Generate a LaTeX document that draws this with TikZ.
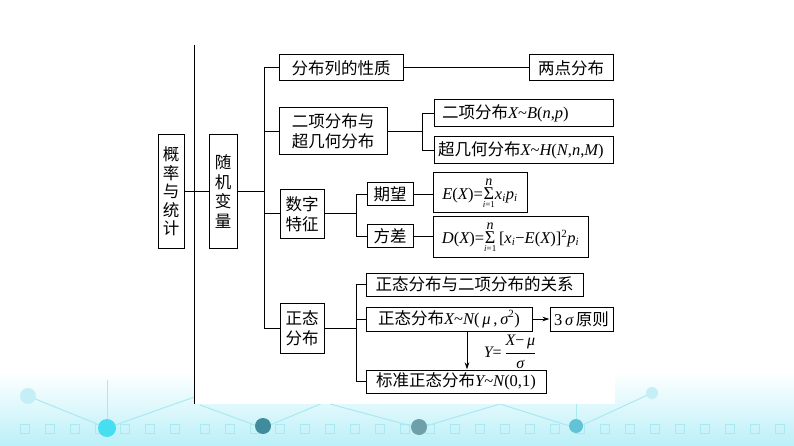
\documentclass[tikz,border=0pt]{standalone}
\usepackage{fontspec}
\setmainfont{Liberation Serif}
\newfontfamily\cjk{Noto Sans CJK SC}
\usetikzlibrary{arrows.meta}
\newcommand\vi[1]{{\rmfamily\itshape #1}}
\newcommand\lat[1]{{\rmfamily #1}}
\newcommand\sbs[1]{$_{\hbox{\rmfamily\fontsize{11}{11}\selectfont #1}}$}
\newcommand\sps[1]{$^{\hbox{\rmfamily\fontsize{11}{11}\selectfont #1}}$}
\newcommand\bsum{$\mathop{\hbox{\rmfamily\fontsize{18}{18}\selectfont Σ}}\limits^{\hbox{\fontsize{14}{14}\selectfont\vi{n}}}_{\hbox{\rmfamily\fontsize{9}{9}\selectfont\vi{i}=1}}$}
\definecolor{bandc}{RGB}{186,240,248}
\definecolor{patc}{RGB}{170,232,242}
\definecolor{dotA}{RGB}{70,222,240}
\definecolor{dotB}{RGB}{64,140,156}
\definecolor{dotC}{RGB}{110,160,170}
\definecolor{dotD}{RGB}{96,196,214}
\begin{document}
\begin{tikzpicture}[x=1pt,y=-1pt,
  box/.style={draw, line width=1pt, inner sep=0pt, align=center,
    font=\cjk\fontsize{16.5}{20}\selectfont},
  lbox/.style={box, align=left},
  conn/.style={line width=1pt},
  arr/.style={line width=1pt, -{Stealth[length=7pt,width=4.5pt]}}]
\useasboundingbox (0,0) rectangle (794,446);
% background band
\fill[top color=white, bottom color=bandc] (0,372) rectangle (794,446);
\foreach \x in {20,45,70,95,120,145,170,200,225,250,275,300,325,350,375,400,425,450,475,500,525,550,575,600,625,650,675,700,725,750,775}
  \draw[patc, line width=0.8pt] (\x,424) rectangle ++(9,9);
\draw[patc, line width=1pt] (28,396) -- (107,428) -- (200,395);
\draw[patc, line width=1pt] (200,405) -- (263,428) -- (330,400);
\draw[patc, line width=1pt] (330,404) -- (419,428) -- (500,404);
\draw[patc, line width=1pt] (500,404) -- (576,428) -- (652,393);
\draw[patc, line width=1pt] (107,380) -- (107,428);
\draw[patc, line width=1pt] (576,395) -- (576,428);
\fill[patc!70] (28,396) circle (8);
\fill[patc!70] (652,393) circle (6);
\fill[dotA] (107,428) circle (9);
\fill[dotB] (263,426) circle (8);
\fill[dotC] (419,427) circle (8);
\fill[dotD] (576,426) circle (7);
\fill[white] (194,0) rectangle (615,404);
% main vertical line
\draw[conn] (194,45) -- (194,404);
% nodes
\node[box, minimum width=26, minimum height=113, font=\cjk\fontsize{16.5}{18.5}\selectfont] (gl) at (171,191.5) {概\\率\\与\\统\\计};
\node[box, minimum width=28, minimum height=113, font=\cjk\fontsize{16.5}{19.5}\selectfont] (sj) at (223,191.5) {随\\机\\变\\量};
\node[box, minimum width=124, minimum height=26] (b1) at (341,68) {分布列的性质};
\node[box, minimum width=108, minimum height=47] (b2) at (333,131.5) {二项分布与\\超几何分布};
\node[box, minimum width=44, minimum height=48] (b3) at (302,214) {数字\\特征};
\node[box, minimum width=44, minimum height=50] (b4) at (302,328) {正态\\分布};
\node[box, minimum width=84, minimum height=26] (c1) at (571,68) {两点分布};
\node[lbox, minimum width=179, minimum height=27, text width=163] (c2) at (523.5,113.5) {二项分布\lat{\vi{X}\textasciitilde\vi{B}(\vi{n},\vi{p})}};
\node[lbox, minimum width=179, minimum height=27, text width=171] (c3) at (523.5,150.5) {超几何分布\lat{\vi{X}\textasciitilde\vi{H}(\vi{N},\vi{n},\vi{M})}};
\node[box, minimum width=46, minimum height=23] (d1) at (390,194.5) {期望};
\node[box, minimum width=46, minimum height=22] (d2) at (390,236) {方差};
\node[box, minimum width=94, minimum height=40] (e1) at (480,193) {\lat{\vi{E}(\vi{X})=\bsum\vi{x}\sbs{\vi{i}}\vi{p}\sbs{\vi{i}}}};
\node[box, minimum width=155, minimum height=40] (e2) at (510.5,237) {\lat{\vi{D}(\vi{X})=\bsum\,[\vi{x}\sbs{\vi{i}}−\vi{E}(\vi{X})]\sps{2}\vi{p}\sbs{\vi{i}}}};
\node[box, minimum width=217, minimum height=23] (f1) at (474.5,284.5) {正态分布与二项分布的关系};
\node[box, minimum width=166, minimum height=24] (f2) at (449,319) {正态分布\lat{\vi{X}\textasciitilde\vi{N}(\,\vi{μ}\,,\,\vi{σ}\sps{2})}};
\node[box, minimum width=63, minimum height=24] (f3) at (581.5,319) {\lat{3\,\vi{σ}}\,原则};
\node[box, minimum width=180, minimum height=23] (f4) at (456,381.5) {标准正态分布\lat{\vi{Y}\textasciitilde\vi{N}(0,1)}};
\node[inner sep=0pt, font=\rmfamily\fontsize{16}{18}\selectfont] (lab) at (510,352) {\vi{Y}=\,$\displaystyle\frac{\hbox{\vi{X}−\,\vi{μ}}}{\hbox{\vi{σ}}}$};
% buses
\coordinate (busA) at (264,0);
\coordinate (busB) at (422,0);
\coordinate (busC) at (356,0);
\draw[conn] (gl.east) -- (sj.west);
\draw[conn] (sj.east) -- (sj.east -| busA);
\draw[conn] (b1.west) -- (b1.west -| busA) -- (b4.west -| busA) -- (b4.west);
\draw[conn] (b2.west) -- (b2.west -| busA);
\draw[conn] (b3.west) -- (b3.west -| busA);
\draw[conn] (b1.east) -- (c1.west);
\draw[conn] (b2.east) -- (b2.east -| busB);
\draw[conn] (c2.west) -- (c2.west -| busB) -- (c3.west -| busB) -- (c3.west);
\draw[conn] (b3.east) -- (b3.east -| busC);
\draw[conn] (d1.west) -- (d1.west -| busC) -- (d2.west -| busC) -- (d2.west);
\draw[conn] (d1.east) -- (d1.east -| e1.west);
\draw[conn] (d2.east) -- (d2.east -| e2.west);
\draw[conn] (b4.east) -- (b4.east -| busC);
\draw[conn] (f1.west) -- (f1.west -| busC) -- (f4.west -| busC) -- (f4.west);
\draw[conn] (f2.west) -- (f2.west -| busC);
\draw[arr] (f2.east) -- (f3.west);
\draw[arr] ([xshift=18]f2.south) -- ([xshift=18]f2.south |- f4.north);
\end{tikzpicture}
\end{document}
